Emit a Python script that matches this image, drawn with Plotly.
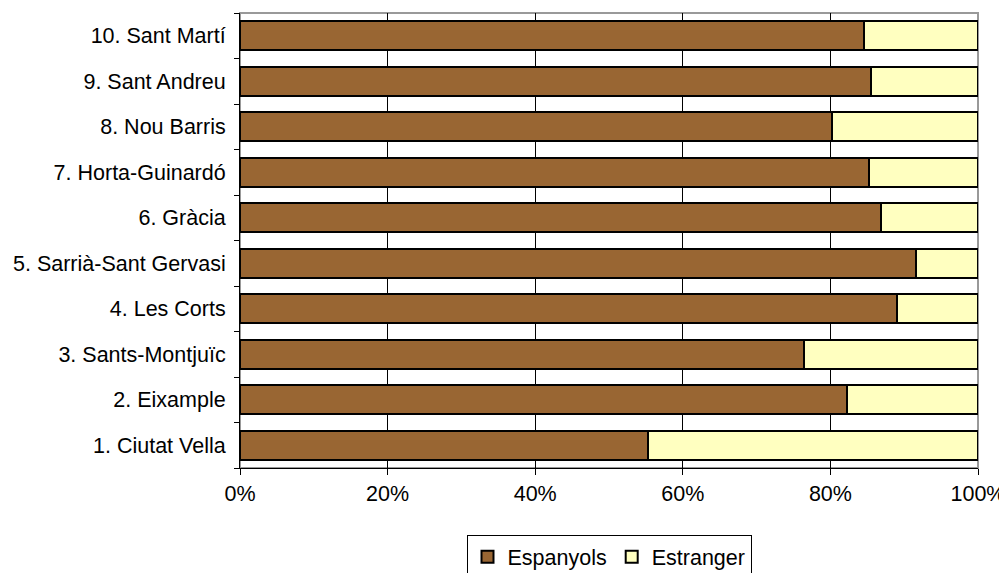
import plotly.graph_objects as go

categories = ["1. Ciutat Vella", "2. Eixample", "3. Sants-Montjuïc", "4. Les Corts",
              "5. Sarrià-Sant Gervasi", "6. Gràcia", "7. Horta-Guinardó",
              "8. Nou Barris", "9. Sant Andreu", "10. Sant Martí"]
espanyols = [55.3, 82.2, 76.4, 89.0, 91.6, 86.9, 85.2, 80.2, 85.5, 84.5]
estranger = [44.7, 17.8, 23.6, 11.0, 8.4, 13.1, 14.8, 19.8, 14.5, 15.5]
x_ticks = [0, 20, 40, 60, 80, 100]
x_tick_labels = ["0%", "20%", "40%", "60%", "80%", "100%"]

FONT = "Liberation Sans, Arial, sans-serif"
FS = 21.5

fig = go.Figure()
fig.add_trace(go.Bar(y=categories, x=espanyols, orientation="h", name="Espanyols",
                     marker=dict(color="#996633", line=dict(color="black", width=2))))
fig.add_trace(go.Bar(y=categories, x=estranger, orientation="h", name="Estranger",
                     marker=dict(color="#FFFFC0", line=dict(color="black", width=2))))

fig.update_layout(
    barmode="stack",
    bargap=0.36,
    width=1007, height=573,
    margin=dict(l=232, r=37, t=5, b=113, autoexpand=False),
    paper_bgcolor="white", plot_bgcolor="white",
    font=dict(family=FONT, size=FS, color="black"),
    showlegend=True,
    legend=dict(orientation="h", x=0.5, xanchor="center", y=-0.148, yanchor="top",
                bordercolor="black", borderwidth=1, font=dict(size=FS),
                itemwidth=30, tracegroupgap=0, traceorder="normal"),
    xaxis=dict(range=[0, 100], tickvals=x_ticks, ticktext=x_tick_labels,
               showgrid=True, gridcolor="black", gridwidth=1,
               showline=True, linecolor="black", linewidth=1,
               ticks="outside", ticklen=6, tickcolor="black", zeroline=False,
               tickfont=dict(size=FS), automargin=False),
    yaxis=dict(type="category", categoryorder="array", categoryarray=categories,
               showline=True, linecolor="black", linewidth=1,
               ticks="outside", tickson="boundaries", ticklen=5, tickcolor="black",
               showgrid=False, tickfont=dict(size=FS), ticklabelstandoff=9,
               automargin=False),
)
fig.add_shape(type="rect", xref="paper", yref="paper", x0=0, x1=1, y0=0, y1=1,
              line=dict(color="#999999", width=2), layer="below")

fig.write_html("out.html")
